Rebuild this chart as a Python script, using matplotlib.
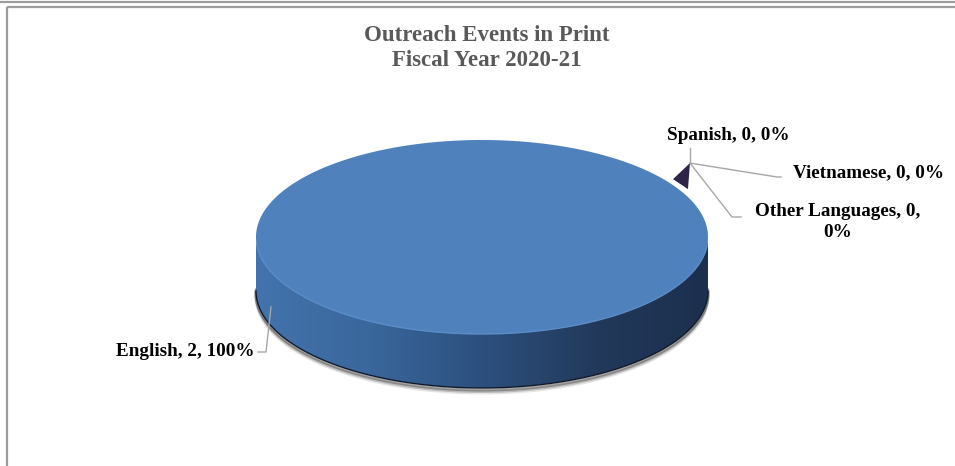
import numpy as np
import matplotlib
matplotlib.use("Agg")
import matplotlib.pyplot as plt
from matplotlib.patches import Polygon, Rectangle
from matplotlib.lines import Line2D

# Outreach events in print, by language
languages = ["English", "Spanish", "Vietnamese", "Other Languages"]
events = [2, 0, 0, 0]

title_lines = ["Outreach Events in Print", "Fiscal Year 2020-21"]

plt.rcParams["font.family"] = ["Liberation Serif", "DejaVu Serif"]

W, H = 955, 466
fig = plt.figure(figsize=(W / 100, H / 100), dpi=100)
ax = fig.add_axes([0, 0, 1, 1])
ax.axis("off")

# chart frame
ax.add_line(Line2D([0, W], [2, 2], color="#9c9c9c", lw=1.6))
ax.add_patch(Rectangle((7, 7), W + 20, H + 20, fill=False, ec="#9c9c9c", lw=1.6))

# 3-D pie geometry
cx, cy = 482, 237      # centre of the top face
rx, ry = 226, 97       # radii of the top face
depth = 54             # thickness of the pie
start = 24.3           # angle of first slice (deg, counter-clockwise from +x)


def rim(theta_deg, dy=0.0):
    t = np.radians(theta_deg)
    return np.column_stack([cx + rx * np.cos(t), cy - ry * np.sin(t) + dy])


vals = np.asarray(events, dtype=float)
total = vals.sum()
frac = vals / total
bounds = start - 360 * np.concatenate([[0], np.cumsum(frac)])

# shadow under the side wall
for k, a in [(5, 0.10), (3.5, 0.18), (2, 0.35)]:
    sh = rim(np.linspace(178, 362, 200), depth + k)
    ax.plot(sh[:, 0], sh[:, 1], color="black", lw=2.2, alpha=a, solid_capstyle="round")

# side wall of the front half, shaded left to right
front_top = rim(np.linspace(180, 360, 240))
front_bot = rim(np.linspace(360, 180, 240), depth)
side = Polygon(np.vstack([front_top, front_bot]), closed=True, fc="none", ec="none")
ax.add_patch(side)
grad = np.linspace(0, 1, 256)[None, :]
side_cmap = matplotlib.colors.LinearSegmentedColormap.from_list(
    "side", ["#4374ad", "#3a679c", "#2c507e", "#22395b", "#1c2f4d"])
img = ax.imshow(grad, cmap=side_cmap,
                extent=[cx - rx - 2, cx + rx + 2, cy + ry + depth + 4, cy - 4],
                aspect="auto", zorder=2)
img.set_clip_path(side)
ax.plot(front_bot[:, 0], front_bot[:, 1], color="#111a2a", lw=1.0, zorder=3)

# top face: one wedge per slice
colors = ["#4f81bd", "#2e2448", "#2e2448", "#2e2448"]
for i, f in enumerate(frac):
    if f <= 0:
        continue
    arc = rim(np.linspace(bounds[i], bounds[i + 1], 400))
    ax.add_patch(Polygon(np.vstack([[cx, cy], arc]), closed=True,
                         fc=colors[i], ec="none", zorder=4))

# light edge where the top face meets the side
edge = rim(np.linspace(185, 355, 200))
ax.plot(edge[:, 0], edge[:, 1], color="#5a8cc8", lw=1.0, zorder=5)

# cut wall of the pie where the zero-size slices sit
p0 = rim(bounds[1])[0]
tip = p0 + np.array([2, -34])
p1 = rim(bounds[1] + 8)[0] + np.array([0, -6])
ax.add_patch(Polygon([p1, tip, p0 + np.array([0, -8])], closed=True,
                     fc="#2e2448", ec="none", zorder=3.5))

# data labels
labels = [f"{n}, {v}, {v / total * 100:.0f}%" for n, v in zip(languages, events)]
lbl_kw = dict(fontsize=13.8, fontweight="bold", color="black", zorder=6)
lead_kw = dict(color="#a6a6a6", lw=1.0, zorder=5)

# English: leader from the middle of its side wall
mid = (bounds[0] + bounds[1]) / 2
pe = rim(mid, depth / 2)[0]
ax.plot([pe[0] - 5, pe[0] - 10, pe[0] - 18], [pe[1] + 3, 352, 352], **lead_kw)
ax.text(pe[0] - 22, 352, labels[0], ha="right", va="center", **lbl_kw)

# zero slices: leaders from the tip of the cut wall
ax.plot([tip[0], tip[0]], [tip[1], 148], **lead_kw)
ax.text(728, 136, labels[1], ha="center", va="center", **lbl_kw)

ax.plot([tip[0], 777, 781], [tip[1], 177, 177], **lead_kw)
ax.text(793, 173, labels[2], ha="left", va="center", **lbl_kw)

ax.plot([tip[0], 732, 741], [tip[1], 217, 217], **lead_kw)
name3, rest3 = labels[3].rsplit(" ", 1)
ax.text(838, 222, name3 + "\n" + rest3, ha="center", va="center",
        linespacing=1.25, **lbl_kw)

# title
ax.text(487, 48, "\n".join(title_lines), ha="center", va="center",
        fontsize=16.5, fontweight="bold", color="#595959", linespacing=1.25)

ax.set_xlim(0, W)
ax.set_ylim(H, 0)
fig.savefig("out.png", dpi=100)
